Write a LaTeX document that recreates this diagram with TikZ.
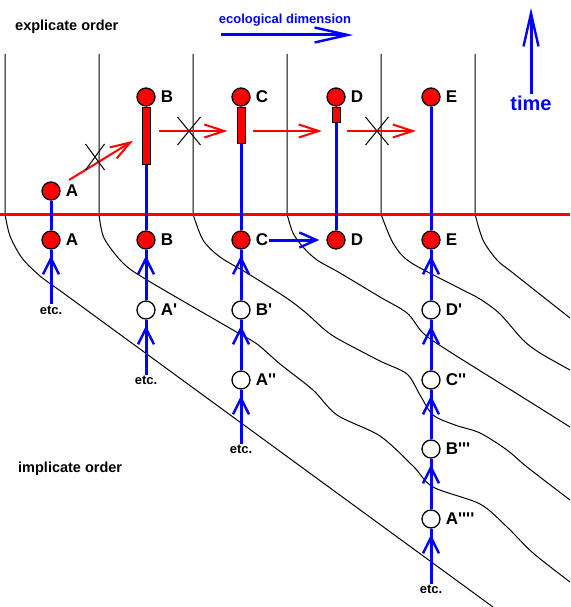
\documentclass[tikz,border=0pt]{standalone}
\usepackage{fontspec}
\setmainfont{Liberation Sans}
\usepackage{tikz}
\usetikzlibrary{arrows.meta,positioning,shapes.misc,decorations.markings}

\definecolor{flowblue}{RGB}{0,0,255}
\definecolor{nowred}{RGB}{255,0,0}
\newcommand{\pr}{\textquotesingle}

\begin{document}
\begin{tikzpicture}[x=1pt, y=-1pt, label distance=4pt,
  event/.style={circle, draw=black, line width=1.3pt, fill=nowred, minimum size=18pt, inner sep=0pt},
  trace/.style={event, fill=white},
  bar/.style={rectangle, draw=black, line width=0.9pt, fill=nowred, minimum width=8pt, inner sep=0pt, anchor=north},
  tag/.style={font=\bfseries\fontsize{17}{18}\selectfont, inner sep=1pt},
  etcnote/.style={font=\bfseries\fontsize{13}{14}\selectfont, inner sep=1pt},
  heading/.style={font=\bfseries\fontsize{14.5}{15}\selectfont, anchor=west, inner sep=0pt},
  slice/.style={black, line width=1pt},
  stem/.style={flowblue, line width=3pt},
  upflow/.style={stem, postaction=decorate, decoration={markings,
      mark=at position -6pt with {\arrow{Straight Barb[length=16pt,width=16pt,line width=2.4pt]}}}},
  axis/.style={flowblue, line width=3pt, -{Straight Barb[length=33pt,width=15pt,line width=2.4pt]}},
  pass/.style={nowred, line width=2pt, -{Straight Barb[length=20pt,width=13pt,line width=2pt]}},
  veto/.style={cross out, draw=black, line width=1pt, minimum width=22pt, minimum height=27pt, inner sep=0pt}]
  \useasboundingbox (0,0) rectangle (570,607);

  % time slices, bending away below the present
  \draw[slice] (5,54) -- plot[smooth, tension=.5] coordinates {(5,214) (10,236) (22,258) (40,276) (60,290.6)} -- (493,607);
  \draw[slice] (99,54) -- plot[smooth, tension=.5] coordinates {(99,214) (104,238) (123,263) (147,280) (233,330) (257,344) (280,364) (313,390) (337,415) (380,436) (413,466) (433,487) (480,504) (507,527) (533,553) (570,582)};
  \draw[slice] (193,54) -- plot[smooth, tension=.5] coordinates {(193,214) (203,240) (220,257) (247,273) (285,297) (305,312) (325,330) (340,340) (380,361) (407,374) (420,395) (433,415) (455,425) (480,433) (507,450) (527,467) (570,500)};
  \draw[slice] (287,54) -- plot[smooth, tension=.5] coordinates {(287,214) (293,233) (303,247) (317,260) (340,273) (380,297) (407,313) (423,333) (447,350) (527,400) (570,427)};
  \draw[slice] (381,54) -- plot[smooth, tension=.5] coordinates {(381,214) (393,243) (410,262) (457,287) (480,299) (500,314) (523,340) (540,353) (570,370)};
  \draw[slice] (475,54) -- plot[smooth, tension=.5] coordinates {(475,214) (483,240) (497,260) (513,273) (570,318)};

  % the present
  \draw[nowred, line width=3pt] (0,214) -- (570,214);

  % headings
  \node[heading] (explicate) at (15,27) {explicate order};
  \node[heading] (implicate) at (18,469) {implicate order};
  \node[font=\bfseries\fontsize{13}{14}\selectfont, text=flowblue, inner sep=1pt] (ecoLabel) at (285,20) {ecological dimension};
  \node[font=\bfseries\fontsize{20}{21}\selectfont, text=flowblue, inner sep=1pt] (timeLabel) at (531,103) {time};
  \coordinate (ecoTail) at (221,35);
  \coordinate (ecoHead) at (353,35);
  \coordinate (timeHead) at (531,8);
  \draw[axis] (ecoTail) -- (ecoHead);
  \draw[axis] (timeLabel) -- (timeHead);

  % unfolded events
  \node[event, label={[tag]right:A}] (Aup) at (51,191) {};
  \node[event, label={[tag]right:B}] (Bup) at (146,97) {};
  \node[event, label={[tag]right:C}] (Cup) at (241,97) {};
  \node[event, label={[tag]right:D}] (Dup) at (336,97) {};
  \node[event, label={[tag]right:E}] (Eup) at (431,97) {};
  \node[bar, minimum height=57pt] (Bbar) at (Bup.south) {};
  \node[bar, minimum height=36pt] (Cbar) at (Cup.south) {};
  \node[bar, minimum height=15pt] (Dbar) at (Dup.south) {};

  % events on the present
  \node[event, label={[tag]right:A}] (A) at (51,240) {};
  \node[event, label={[tag]right:B}] (B) at (146,240) {};
  \node[event, label={[tag,name=Ctag]right:C}] (C) at (241,240) {};
  \node[event, label={[tag]right:D}] (D) at (336,240) {};
  \node[event, label={[tag]right:E}] (E) at (431,240) {};

  % enfolded traces
  \node[trace, label={[tag]right:A\pr}] (Ap) at (146,310) {};
  \node[trace, label={[tag]right:B\pr}] (Bp) at (241,310) {};
  \node[trace, label={[tag]right:A\pr\pr}] (App) at (241,380) {};
  \node[trace, label={[tag]right:D\pr}] (Dp) at (431,310) {};
  \node[trace, label={[tag]right:C\pr\pr}] (Cpp) at (431,380) {};
  \node[trace, label={[tag]right:B\pr\pr\pr}] (Bppp) at (431,449) {};
  \node[trace, label={[tag]right:A\pr\pr\pr\pr}] (Apppp) at (431,519) {};
  \node[etcnote] (etcA) at (51,310) {etc.};
  \node[etcnote] (etcB) at (146,380) {etc.};
  \node[etcnote] (etcC) at (241,449) {etc.};
  \node[etcnote] (etcE) at (431,589) {etc.};

  % stems through the present
  \draw[stem] (Aup) -- (A);
  \draw[stem] (Bbar) -- (B);
  \draw[stem] (Cbar) -- (C);
  \draw[stem] (Dbar) -- (D);
  \draw[stem] (Eup) -- (E);

  % flows out of the implicate order
  \foreach \lo/\hi in {etcA/A, etcB/Ap, Ap/B, etcC/App, App/Bp, Bp/C,
                       etcE/Apppp, Apppp/Bppp, Bppp/Cpp, Cpp/Dp, Dp/E}
    \draw[upflow] (\lo) -- (\hi);
  \draw[stem, -{Straight Barb[length=17pt,width=15pt,line width=2.4pt]}, shorten >=7pt] (Ctag) -- (D);

  % passes along the ecological dimension
  \coordinate (lane) at (0,131);
  \draw[pass, shorten <=11.5pt, shorten >=10pt] (Aup) -- (Bbar.west);
  \draw[pass, shorten <=9pt, shorten >=9pt] (Bbar.east |- lane) -- (Cbar.west |- lane);
  \draw[pass, shorten <=8pt, shorten >=14pt] (Cbar.east |- lane) -- (Dup |- lane);
  \draw[pass, shorten <=11pt, shorten >=15pt] (Dup |- lane) -- (Eup |- lane);
  \node[veto, minimum width=18pt, minimum height=25pt] (veto1) at (95,157) {};
  \node[veto] (veto2) at (189,131) {};
  \node[veto] (veto3) at (377,131) {};
\end{tikzpicture}
\end{document}
